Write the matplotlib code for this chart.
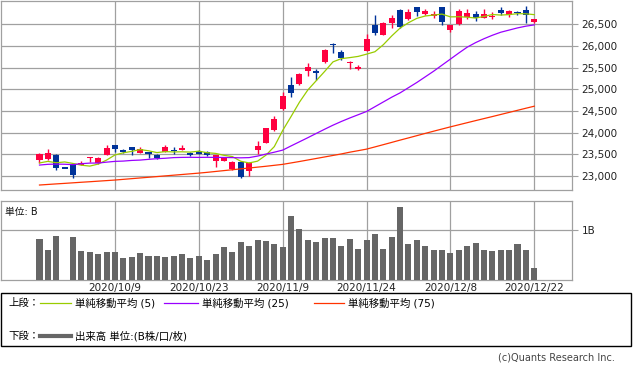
import matplotlib
matplotlib.use('Agg')
import matplotlib.pyplot as plt
from matplotlib.lines import Line2D
from matplotlib.patches import Rectangle
from matplotlib.ticker import FuncFormatter
import numpy as np

plt.rcParams['font.family'] = ['DejaVu Sans', 'Noto Sans CJK JP']

# daily data (2020/9/28 - 2020/12/22)
dates = ['2020/9/28', '2020/9/29', '2020/9/30', '2020/10/1', '2020/10/2',
         '2020/10/5', '2020/10/6', '2020/10/7', '2020/10/8', '2020/10/9',
         '2020/10/12', '2020/10/13', '2020/10/14', '2020/10/15', '2020/10/16',
         '2020/10/19', '2020/10/20', '2020/10/21', '2020/10/22', '2020/10/23',
         '2020/10/26', '2020/10/27', '2020/10/28', '2020/10/29', '2020/10/30',
         '2020/11/2', '2020/11/4', '2020/11/5', '2020/11/6', '2020/11/9',
         '2020/11/10', '2020/11/11', '2020/11/12', '2020/11/13', '2020/11/16',
         '2020/11/17', '2020/11/18', '2020/11/19', '2020/11/20', '2020/11/24',
         '2020/11/25', '2020/11/26', '2020/11/27', '2020/11/30', '2020/12/1',
         '2020/12/2', '2020/12/3', '2020/12/4', '2020/12/7', '2020/12/8',
         '2020/12/9', '2020/12/10', '2020/12/11', '2020/12/14', '2020/12/15',
         '2020/12/16', '2020/12/17', '2020/12/18', '2020/12/21', '2020/12/22']

opens = [23368, 23395, 23483, 23185, 23269, 23265, 23410, 23292, 23483, 23713,
         23598, 23660, 23540, 23552, 23483, 23559, 23606, 23606, 23529, 23568,
         23545, 23352, 23352, 23154, 23329, 23115, 23598, 23767, 24059, 24536,
         25095, 25134, 25418, 25425, 25632, 26055, 25862, 25609, 25464, 25886,
         26477, 26263, 26530, 26838, 26615, 26898, 26730, 26700, 26898, 26362,
         26500, 26668, 26730, 26645, 26684, 26845, 26723, 26783, 26845, 26553]
highs = [23531, 23621, 23506, 23185, 23292, 23352, 23440, 23440, 23713, 23725,
         23630, 23674, 23660, 23560, 23506, 23713, 23660, 23713, 23545, 23590,
         23570, 23490, 23440, 23345, 23340, 23329, 23813, 24120, 24381, 24941,
         25286, 25380, 25609, 25470, 25930, 26070, 25901, 25650, 25560, 26270,
         26707, 26560, 26716, 26853, 26861, 26910, 26861, 26810, 26900, 26493,
         26861, 26861, 26800, 26861, 26780, 26898, 26830, 26800, 26937, 26620]
lows = [23290, 23368, 23145, 23185, 22946, 23250, 23315, 23276, 23483, 23559,
        23529, 23483, 23530, 23421, 23384, 23550, 23499, 23600, 23460, 23500,
        23470, 23214, 23340, 23150, 22946, 23000, 23499, 23760, 24050, 24530,
        24826, 25100, 25302, 25210, 25620, 25848, 25671, 25480, 25441, 25880,
        26263, 26250, 26415, 26410, 26600, 26691, 26707, 26660, 26477, 26323,
        26490, 26631, 26569, 26640, 26630, 26720, 26680, 26720, 26530, 26530]
closes = [23511, 23539, 23185, 23185, 23030, 23312, 23433, 23422, 23647, 23620,
          23559, 23602, 23627, 23507, 23411, 23671, 23567, 23639, 23474, 23517,
          23494, 23486, 23419, 23332, 22977, 23295, 23695, 24105, 24325, 24840,
          24906, 25350, 25521, 25386, 25907, 26015, 25728, 25634, 25527, 26166,
          26297, 26537, 26645, 26434, 26788, 26790, 26809, 26751, 26547, 26480,
          26818, 26756, 26653, 26732, 26700, 26757, 26807, 26763, 26714, 26615]

ma5 = [23302, 23338, 23306, 23325, 23290, 23250, 23229, 23276, 23368, 23486,
       23536, 23569, 23611, 23583, 23541, 23563, 23556, 23559, 23552, 23574,
       23538, 23522, 23478, 23449, 23341, 23302, 23343, 23481, 23679, 24052,
       24374, 24705, 24988, 25201, 25414, 25636, 25711, 25734, 25762, 25814,
       25870, 26032, 26234, 26416, 26540, 26641, 26695, 26717, 26739, 26675,
       26678, 26668, 26648, 26685, 26729, 26717, 26727, 26749, 26746, 26726]
ma25 = [23253, 23270, 23275, 23272, 23262, 23285, 23298, 23300, 23320, 23338,
        23345, 23360, 23368, 23385, 23400, 23410, 23425, 23430, 23432, 23430,
        23432, 23430, 23428, 23425, 23420, 23425, 23460, 23506, 23550, 23598,
        23695, 23790, 23885, 23983, 24080, 24174, 24260, 24340, 24415, 24490,
        24600, 24710, 24820, 24920, 25040, 25160, 25290, 25420, 25560, 25700,
        25840, 25975, 26080, 26170, 26250, 26320, 26370, 26420, 26460, 26490]
ma75 = [22792, 22805, 22818, 22830, 22843, 22856, 22868, 22881, 22894, 22907,
        22923, 22939, 22955, 22971, 22987, 23003, 23019, 23035, 23051, 23067,
        23085, 23105, 23125, 23145, 23165, 23185, 23205, 23225, 23247, 23269,
        23302, 23335, 23370, 23405, 23440, 23475, 23510, 23550, 23585, 23621,
        23672, 23724, 23776, 23829, 23880, 23932, 23984, 24035, 24085, 24135,
        24183, 24231, 24279, 24326, 24373, 24421, 24469, 24517, 24565, 24612]

# volume in billions of shares
volume = [0.83, 0.60, 0.89, 0.0, 0.87, 0.58, 0.56, 0.52, 0.56, 0.56,
          0.44, 0.46, 0.54, 0.48, 0.48, 0.46, 0.48, 0.52, 0.44, 0.48,
          0.40, 0.52, 0.66, 0.56, 0.77, 0.68, 0.81, 0.79, 0.72, 0.66,
          1.29, 1.03, 0.81, 0.77, 0.85, 0.85, 0.68, 0.83, 0.62, 0.81,
          0.93, 0.62, 0.87, 1.47, 0.72, 0.81, 0.68, 0.60, 0.60, 0.54,
          0.60, 0.68, 0.74, 0.60, 0.58, 0.60, 0.60, 0.72, 0.60, 0.24]

tick_dates = ['2020/10/9', '2020/10/23', '2020/11/9', '2020/11/24', '2020/12/8', '2020/12/22']

RED = '#ff0040'
BLUE = '#003399'
GRID = '#a0a0a0'

W, H = 633, 373
fig = plt.figure(figsize=(W / 100, H / 100), dpi=100)

def fig_rect(x0, y0, x1, y1):
    # pixel box -> figure fraction
    return [x0 / W, 1 - y1 / H, (x1 - x0) / W, (y1 - y0) / H]

ax = fig.add_axes(fig_rect(0.5, 0.5, 572, 190))
axv = fig.add_axes(fig_rect(0.5, 201, 572, 280))

x = np.arange(len(dates))
o = np.array(opens, float)
c = np.array(closes, float)
hi = np.array(highs, float)
lo = np.array(lows, float)

cols = np.where(c > o, RED, BLUE)
body = np.abs(c - o)
thin = body < 25
bottoms = np.where(thin, (o + c) / 2 - 12, np.minimum(o, c))
heights = np.where(thin, 24, body)

ax.vlines(x, lo, hi, colors=cols, lw=1.0, zorder=2)
ax.bar(x, heights, bottom=bottoms, width=0.72, color=cols, lw=0, zorder=3)

ax.plot(x, ma5, color='#99cc00', lw=0.9, zorder=4)
ax.plot(x, ma25, color='#9900ff', lw=0.9, zorder=4)
ax.plot(x, ma75, color='#ff3300', lw=0.9, zorder=4)

tick_idx = [dates.index(d) for d in tick_dates]

for a in (ax, axv):
    a.set_xlim(-4.65, 63.5)
    a.set_xticks(tick_idx)
    a.grid(True, color=GRID, lw=0.9)
    a.set_axisbelow(True)
    for s in a.spines.values():
        s.set_color(GRID)
        s.set_linewidth(0.9)
    a.yaxis.tick_right()
    a.tick_params(axis='y', which='both', length=4, color=GRID, labelsize=7.5,
                  labelcolor='#222222', pad=3)

ax.set_ylim(22677, 27053)
ax.set_yticks(range(23000, 27000, 500))
ax.yaxis.set_major_formatter(FuncFormatter(lambda v, p: f'{int(v):,}'))
ax.tick_params(axis='x', length=0, labelbottom=False)

axv.bar(x, volume, width=0.72, color='#666666', lw=0, zorder=3)
axv.set_ylim(0, 1.58)
axv.set_yticks([1])
axv.set_yticklabels(['1B'])
axv.set_xticklabels(tick_dates)
axv.tick_params(axis='x', length=0, labelsize=7.5, labelcolor='#222222', pad=2)
axv.text(0.008, 0.93, '単位: B', transform=axv.transAxes, fontsize=7,
         va='top', ha='left', color='#111111')

# legend box
fig.patches.append(Rectangle((0.5 / W, 1 - 346 / H), 630 / W, 53 / H,
                             transform=fig.transFigure, fill=False,
                             ec='black', lw=1))

def fx(px):
    return px / W

def fy(py):
    return 1 - py / H

row1, row2 = 303, 336
fig.text(fx(8), fy(row1), '上段：', fontsize=7.5, va='center', ha='left')
items = [(40, 71, '#99cc00', '単純移動平均 (5)'),
         (164, 198, '#9900ff', '単純移動平均 (25)'),
         (314, 344, '#ff3300', '単純移動平均 (75)')]
for x0, x1, col, lab in items:
    fig.add_artist(Line2D([fx(x0), fx(x1)], [fy(row1), fy(row1)], color=col,
                          lw=0.9, transform=fig.transFigure))
    fig.text(fx(x1 + 4), fy(row1), lab, fontsize=7.5, va='center', ha='left')

fig.text(fx(8), fy(row2), '下段：', fontsize=7.5, va='center', ha='left')
fig.add_artist(Line2D([fx(40), fx(71)], [fy(row2), fy(row2)], color='#666666',
                      lw=3, transform=fig.transFigure))
fig.text(fx(75), fy(row2), '出来高 単位:(B株/口/枚)', fontsize=7.5, va='center', ha='left')

fig.text(fx(615), fy(357), '(c)Quants Research Inc.', fontsize=7, va='center',
         ha='right', color='#444444')

fig.savefig('out.png', dpi=100)
